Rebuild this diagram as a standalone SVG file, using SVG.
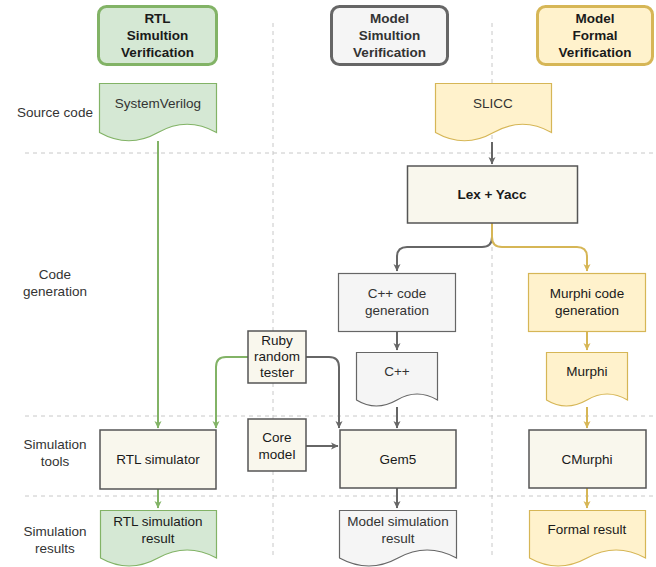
<svg xmlns="http://www.w3.org/2000/svg" width="656" height="567" viewBox="0 0 656 567">
<defs>
<marker id="ag" markerWidth="8" markerHeight="8" refX="7" refY="4" orient="auto" markerUnits="userSpaceOnUse"><path d="M0,0.5 L7.5,4 L0,7.5 L2,4 Z" fill="#666666"/></marker>
<marker id="agr" markerWidth="8" markerHeight="8" refX="7" refY="4" orient="auto" markerUnits="userSpaceOnUse"><path d="M0,0.5 L7.5,4 L0,7.5 L2,4 Z" fill="#82b366"/></marker>
<marker id="ay" markerWidth="8" markerHeight="8" refX="7" refY="4" orient="auto" markerUnits="userSpaceOnUse"><path d="M0,0.5 L7.5,4 L0,7.5 L2,4 Z" fill="#d6b656"/></marker>
</defs>
<style>
text{font-family:"Liberation Sans",Arial,sans-serif;font-size:13.5px;text-anchor:middle;fill:#333333}
.b{font-weight:bold}
.k{fill:#1a1a1a}
.grid{stroke:#c8c8c8;stroke-width:1;stroke-dasharray:4,4;fill:none}
.hg{fill:#d5e8d4;stroke:#82b366;stroke-width:3}
.hs{fill:#f5f5f5;stroke:#666666;stroke-width:3}
.hy{fill:#fff2cc;stroke:#d6b656;stroke-width:3}
.dg{fill:#d5e8d4;stroke:#82b366;stroke-width:1.2}
.ds{fill:#f5f5f5;stroke:#666666;stroke-width:1.2}
.dy{fill:#fff2cc;stroke:#d6b656;stroke-width:1.2}
.bx{fill:#f9f7ed;stroke:#555555;stroke-width:1.5}
.cs{fill:#f5f5f5;stroke:#666666;stroke-width:1.2}
.cy{fill:#fff2cc;stroke:#d6b656;stroke-width:1.2}
.eg{fill:none;stroke:#82b366;stroke-width:2;marker-end:url(#agr)}
.es{fill:none;stroke:#666666;stroke-width:2;marker-end:url(#ag)}
.ey{fill:none;stroke:#d6b656;stroke-width:2;marker-end:url(#ay)}
</style>
<rect width="656" height="567" fill="#ffffff"/>
<g id="grid">
<line class="grid" x1="273" y1="23" x2="273" y2="558"/>
<line class="grid" x1="492" y1="23" x2="492" y2="558"/>
<line class="grid" x1="25" y1="153" x2="656" y2="153"/>
<line class="grid" x1="25" y1="416" x2="656" y2="416"/>
<line class="grid" x1="25" y1="496" x2="656" y2="496"/>
</g>
<g id="labels">
<text x="55" y="117">Source code</text>
<text x="55" y="279">Code</text>
<text x="55" y="296">generation</text>
<text x="55" y="449">Simulation</text>
<text x="55" y="466">tools</text>
<text x="55" y="536">Simulation</text>
<text x="55" y="553">results</text>
</g>
<g id="connectors">
<path class="eg" d="M158,141 V428"/>
<path class="eg" d="M248,357 H226 Q216,357 216,367 V428"/>
<path class="es" d="M306,357 H329 Q339,357 339,367 V428"/>
<path class="es" d="M306,446 H338"/>
<path class="es" d="M492,142 V164"/>
<path class="es" d="M492,223 V237 Q492,247 482,247 H407 Q397,247 397,257 V271"/>
<path class="ey" d="M492,223 V237 Q492,247 502,247 H577 Q587,247 587,257 V271"/>
<path class="es" d="M397,332 V350"/>
<path class="ey" d="M587,332 V350"/>
<path class="es" d="M397,407 V428"/>
<path class="ey" d="M587,407 V428"/>
<path class="eg" d="M158,489 V508"/>
<path class="es" d="M397,488 V508"/>
<path class="ey" d="M587,488 V508"/>
</g>
<g id="hdr-rtl"><rect class="hg" x="98.5" y="6.5" width="118" height="58" rx="8"/>
<text class="b k" x="157.5" y="23">RTL</text><text class="b k" x="157.5" y="40">Simultion</text><text class="b k" x="157.5" y="57">Verification</text></g>
<g id="hdr-model"><rect class="hs" x="331.5" y="6.5" width="116" height="58" rx="8"/>
<text class="b" x="389.5" y="23">Model</text><text class="b" x="389.5" y="40">Simultion</text><text class="b" x="389.5" y="57">Verification</text></g>
<g id="hdr-formal"><rect class="hy" x="537.5" y="6.5" width="115" height="58" rx="8"/>
<text class="b k" x="595" y="23">Model</text><text class="b k" x="595" y="40">Formal</text><text class="b k" x="595" y="57">Verification</text></g>
<g id="systemverilog"><path class="dg" d="M99.5,83.5 H216.5 V132.5 Q187,116 158,132.5 Q129,149 99.5,132.5 Z"/>
<text x="158" y="108">SystemVerilog</text></g>
<g id="slicc"><path class="dy" d="M435.5,83.5 H551.5 V132.5 Q522.5,116 493.5,132.5 Q464.5,149 435.5,132.5 Z"/>
<text x="493" y="108">SLICC</text></g>
<g id="lexyacc"><rect class="bx" x="407.5" y="166" width="170" height="57"/>
<text class="b k" x="492" y="199">Lex + Yacc</text></g>
<g id="cppgen"><rect class="cs" x="338.5" y="273.5" width="117" height="58"/>
<text x="397" y="298">C++ code</text><text x="397" y="315">generation</text></g>
<g id="murphigen"><rect class="cy" x="528.5" y="273.5" width="117" height="58"/>
<text class="k" x="587" y="298">Murphi code</text><text class="k" x="587" y="315">generation</text></g>
<g id="ruby"><rect class="bx" x="248" y="331" width="58" height="52"/>
<text class="k" x="277" y="345">Ruby</text><text class="k" x="277" y="361">random</text><text class="k" x="277" y="377">tester</text></g>
<g id="cpp"><path class="ds" d="M356.5,352.5 H437.5 V400 Q417,388 397,400 Q376,412 356.5,400 Z"/>
<text x="397" y="376">C++</text></g>
<g id="murphi"><path class="dy" d="M546.5,352.5 H627.5 V400 Q607,388 587,400 Q566,412 546.5,400 Z"/>
<text class="k" x="587" y="376">Murphi</text></g>
<g id="core"><rect class="bx" x="248" y="419" width="58" height="52"/>
<text class="k" x="277" y="442">Core</text><text class="k" x="277" y="459">model</text></g>
<g id="rtlsim"><rect class="bx" x="100" y="430" width="116" height="59"/>
<text class="k" x="158" y="464">RTL simulator</text></g>
<g id="gem5"><rect class="bx" x="340" y="430" width="116" height="58"/>
<text class="k" x="398" y="464">Gem5</text></g>
<g id="cmurphi"><rect class="bx" x="529" y="430" width="117" height="58"/>
<text class="k" x="587" y="464">CMurphi</text></g>
<g id="rtlres"><path class="dg" d="M100.5,510.5 H216.5 V558 Q187,542 158,558 Q129,574 100.5,558 Z"/>
<text class="k" x="158" y="526">RTL simulation</text><text class="k" x="158" y="543">result</text></g>
<g id="modelres"><path class="ds" d="M339.5,510.5 H456.5 V558 Q427,542 398,558 Q369,574 339.5,558 Z"/>
<text x="398" y="526">Model simulation</text><text x="398" y="543">result</text></g>
<g id="formalres"><path class="dy" d="M529.5,510.5 H645.5 V558 Q616,542 587,558 Q558,574 529.5,558 Z"/>
<text class="k" x="587" y="534">Formal result</text></g>
</svg>
